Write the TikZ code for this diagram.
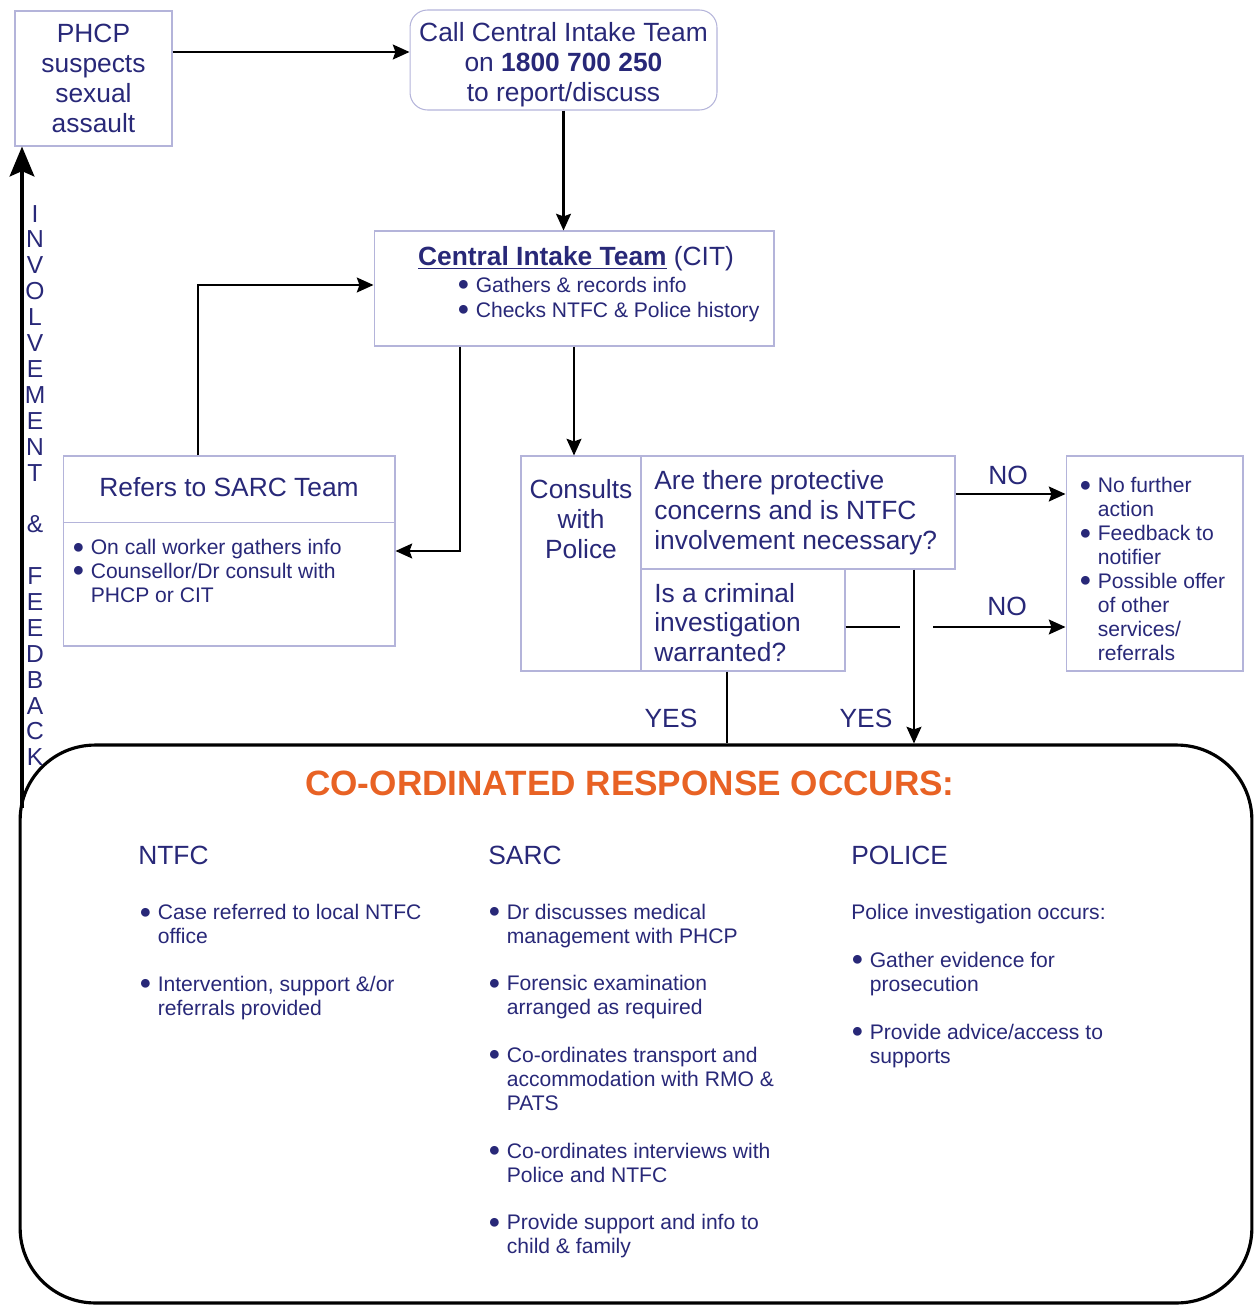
\documentclass[tikz,border=0pt]{standalone}
\usepackage{fontspec}
\setmainfont{Liberation Sans}
\usepackage{tikz}
\usetikzlibrary{arrows.meta}
\usetikzlibrary{calc}

\definecolor{navy}{RGB}{40,40,120}
\definecolor{boxc}{RGB}{180,180,218}
\definecolor{orng}{RGB}{232,98,36}

\newcommand{\bpt}{\makebox[10.5pt][l]{\raisebox{0.9pt}{\fontsize{11.5pt}{0pt}\selectfont ●}}}
\newcommand{\bsp}{\hspace*{10.5pt}}

\begin{document}
\begin{tikzpicture}[x=0.02cm, y=-0.02cm,
	flowbox/.style={draw=boxc, line width=0.6pt, inner sep=0pt},
	conn/.style={line width=1.2pt},
	arr/.style={conn, -{Stealth[length=9.5pt, width=8.5pt, inset=1.5pt]}},
	bigtxt/.style={font=\fontsize{15pt}{17pt}\selectfont, text=navy, inner sep=0pt},
	sml/.style={font=\fontsize{12pt}{13.6pt}\selectfont, text=navy, align=left, inner sep=0pt, anchor=west},
	colhead/.style={font=\fontsize{15pt}{17pt}\selectfont, text=navy, inner sep=0pt, anchor=west}]
	\useasboundingbox (0,0) rectangle (1255,1307);

	\node[flowbox, minimum width=3.14cm, minimum height=2.7cm, bigtxt, align=center] (phcp) at (93.5,78.5) {PHCP\\suspects\\sexual\\assault};
	\node[flowbox, rounded corners=0.35cm, minimum width=6.14cm, minimum height=2cm] (call) at (563.5,60) {};
	\node[bigtxt, align=center] (calltxt) at (563.5,65) {Call Central Intake Team\\on \textbf{1800 700 250}\\to report/discuss};

	\node[flowbox, minimum width=8cm, minimum height=2.3cm] (cit) at (574,288.5) {};
	\node[bigtxt] (cittitle) at (576,259) {\textbf{\underline{Central Intake Team}} (CIT)};
	\node[sml, font=\fontsize{12pt}{14.2pt}\selectfont] (citlist) at (457,299.5) {\bpt Gathers \& records info\\\bpt Checks NTFC \& Police history};

	\node[flowbox, minimum width=6.64cm, minimum height=3.8cm] (sarc) at (229,551) {};
	\draw[flowbox] ([yshift=-1.34cm]sarc.north west) -- ([yshift=-1.34cm]sarc.north east);
	\node[bigtxt] (sarctitle) at (229,487) {Refers to SARC Team};
	\node[sml] (sarclist) at (72,571) {\bpt On call worker gathers info\\\bpt Counsellor/Dr consult with\\\bsp PHCP or CIT};

	\node[flowbox, minimum width=2.4cm, minimum height=4.3cm] (police) at (581,563.5) {};
	\node[bigtxt, align=center] (policetxt) at (581,519) {Consults\\with\\Police};
	\node[flowbox, minimum width=6.28cm, minimum height=2.26cm] (qprot) at (798,512.5) {};
	\node[bigtxt, align=left, anchor=west] (qprottxt) at (654,513) {Are there protective\\concerns and is NTFC\\involvement necessary?};
	\node[flowbox, minimum width=4.08cm, minimum height=2.04cm] (qcrim) at (743,620) {};
	\node[bigtxt, align=left, anchor=west] (qcrimtxt) at (654,622.5) {Is a criminal\\investigation\\warranted?};

	\node[flowbox, minimum width=3.54cm, minimum height=4.3cm] (outcome) at (1154.5,563.5) {};
	\node[sml] (outlist) at (1079,569) {\bpt No further\\\bsp action\\\bpt Feedback to\\\bsp notifier\\\bpt Possible offer\\\bsp of other\\\bsp services/\\\bsp referrals};

	\node[draw, line width=1.8pt, rounded corners=1.5cm, minimum width=24.64cm, minimum height=11.16cm, inner sep=0pt] (resp) at (636,1024) {};
	\node[font=\bfseries\fontsize{20pt}{24pt}\selectfont, text=orng, inner sep=0pt] (resptitle) at (630,783) {CO-ORDINATED RESPONSE OCCURS:};

	\node[colhead] (ntfchead) at (138,855) {NTFC};
	\node[colhead] (sarchead) at (488,855) {SARC};
	\node[colhead] (policehead) at (851,855) {POLICE};

	\node[sml] (ntfccol) at (139,962) {\bpt Case referred to local NTFC\\\bsp office\\[13.6pt]\bpt Intervention, support \&/or\\\bsp referrals provided};
	\node[sml] (sarccol) at (488,1081) {\bpt Dr discusses medical\\\bsp management with PHCP\\[13.6pt]\bpt Forensic examination\\\bsp arranged as required\\[13.6pt]\bpt Co-ordinates transport and\\\bsp accommodation with RMO \&\\\bsp PATS\\[13.6pt]\bpt Co-ordinates interviews with\\\bsp Police and NTFC\\[13.6pt]\bpt Provide support and info to\\\bsp child \& family};
	\node[sml] (policecol) at (851,986) {Police investigation occurs:\\[13.6pt]\bpt Gather evidence for\\\bsp prosecution\\[13.6pt]\bpt Provide advice/access to\\\bsp supports};

	\node[font=\fontsize{14pt}{14.74pt}\selectfont, text=navy, align=center, inner sep=0pt] (fbtxt) at (35,485.5) {I\\N\\V\\O\\L\\V\\E\\M\\E\\N\\T\\~\\\&\\~\\F\\E\\E\\D\\B\\A\\C\\K};

	\coordinate (toCall) at ([yshift=0.16cm]call.west);
	\draw[arr] (toCall -| phcp.east) -- (toCall);
	\draw[arr] (call.south) -- (call.south |- cit.north);
	\draw[arr] ([xshift=-2.28cm]cit.south) |- (sarc.east);
	\draw[arr] (cit.south) -- (cit.south |- police.north);
	\draw[arr] ([xshift=-0.62cm]sarc.north) |- ([yshift=0.07cm]cit.west);

	\coordinate (noA) at ([yshift=0.37cm]qprot.east);
	\draw[arr] (noA) -- (noA -| outcome.west);
	\node[bigtxt] (noAlbl) at (1008,475) {NO};
	\coordinate (gapL) at (900,627);
	\coordinate (gapR) at (933,627);
	\draw[conn] (qcrim.east |- gapL) -- (gapL);
	\draw[arr] (gapR) -- (gapR -| outcome.west);
	\node[bigtxt] (noBlbl) at (1007,606) {NO};

	\coordinate (yesA) at ([xshift=2.32cm]qprot.south);
	\draw[arr] (yesA) -- (yesA |- resp.north);
	\node[bigtxt] (yesAlbl) at (866,718) {YES};
	\coordinate (yesB) at ([xshift=-0.32cm]qcrim.south);
	\draw[conn] (yesB) -- (yesB |- resp.north);
	\node[bigtxt] (yesBlbl) at (671,718) {YES};

	\coordinate (fb) at (22,808);
	\draw[line width=2.2pt, -{Stealth[length=17pt, width=14pt, inset=3pt]}] (fb) -- (fb |- phcp.south);
\end{tikzpicture}
\end{document}
